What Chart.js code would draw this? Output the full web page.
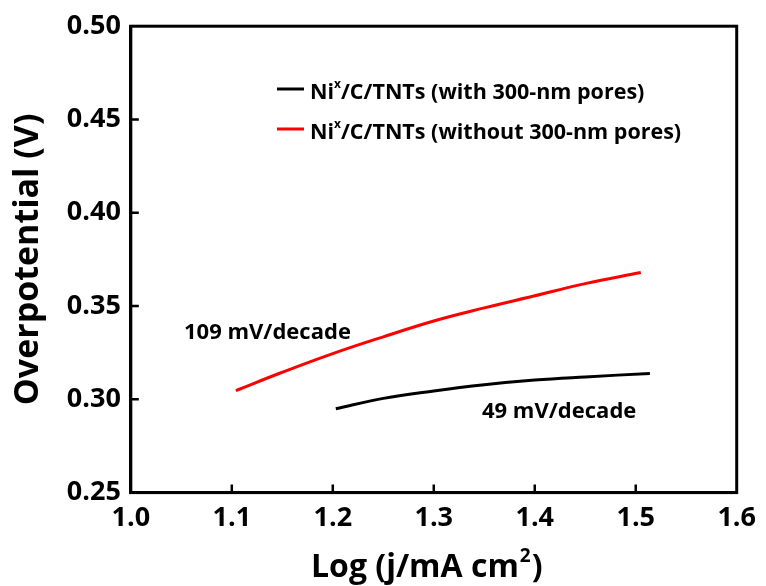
<!DOCTYPE html>
<html>
<head>
<meta charset="utf-8">
<script src="https://cdn.jsdelivr.net/npm/chart.js@4.4.1/dist/chart.umd.min.js"></script>
<style>
  html, body { margin: 0; padding: 0; background: #fff; }
  #wrap { width: 766px; height: 586px; }
</style>
</head>
<body>
<div id="wrap"><canvas id="chart" width="766" height="586"></canvas></div>
<script>
const withPores_x = [1.203, 1.25, 1.30, 1.35, 1.40, 1.45, 1.514];
const withPores_y = [0.2949, 0.3005, 0.3045, 0.3078, 0.3103, 0.3120, 0.3139];
const withoutPores_x = [1.104, 1.15, 1.20, 1.25, 1.30, 1.35, 1.40, 1.45, 1.505];
const withoutPores_y = [0.3047, 0.3145, 0.3245, 0.3335, 0.342, 0.349, 0.3555, 0.362, 0.368];

const legendLabels = ['/C/TNTs (with 300-nm pores)', '/C/TNTs (without 300-nm pores)'];
const slopeLabels = ['49 mV/decade', '109 mV/decade'];

const FONT = '"Open Sans", Lato, sans-serif';

function pts(xs, ys) {
    return xs.map((x, i) => ({ x: x, y: ys[i] }));
}

const decorations = {
    id: 'decorations',
    afterDraw(chart) {
        const ctx = chart.ctx;
        const a = chart.chartArea;
        const xs = chart.scales.x, ys = chart.scales.y;
        ctx.save();
        ctx.strokeStyle = '#000';
        ctx.lineWidth = 3;
        ctx.strokeRect(a.left, a.top, a.right - a.left, a.bottom - a.top);

        // inward ticks
        ctx.lineWidth = 2.5;
        ctx.beginPath();
        xs.ticks.forEach(t => {
            const px = xs.getPixelForValue(t.value);
            if (px <= a.left + 2 || px >= a.right - 2) return;
            ctx.moveTo(px, a.bottom);
            ctx.lineTo(px, a.bottom - 8);
        });
        ys.ticks.forEach(t => {
            const py = ys.getPixelForValue(t.value);
            if (py <= a.top + 2 || py >= a.bottom - 2) return;
            ctx.moveTo(a.left, py);
            ctx.lineTo(a.left + 8, py);
        });
        ctx.stroke();

        // legend
        const colors = ['#000', '#f00'];
        ctx.textBaseline = 'alphabetic';
        ctx.textAlign = 'left';
        legendLabels.forEach((lab, i) => {
            const base = 99 + i * 40;
            ctx.strokeStyle = colors[i];
            ctx.lineWidth = 3;
            ctx.beginPath();
            ctx.moveTo(277, base - 10);
            ctx.lineTo(304, base - 10);
            ctx.stroke();
            ctx.fillStyle = '#000';
            ctx.font = 'bold 21.5px ' + FONT;
            ctx.fillText('Ni', 310, base);
            const w = ctx.measureText('Ni').width;
            ctx.font = 'bold 12px ' + FONT;
            ctx.fillText('x', 310 + w, base - 11);
            const w2 = ctx.measureText('x').width;
            ctx.font = 'bold 21.5px ' + FONT;
            ctx.fillText(lab, 310 + w + w2, base);
        });

        // slope notes
        ctx.fillStyle = '#000';
        ctx.font = 'bold 22px ' + FONT;
        ctx.fillText(slopeLabels[0], 482, 418);
        ctx.fillText(slopeLabels[1], 184, 339);

        // x title with superscript
        const t1 = 'Log (j/mA cm', t2 = ')';
        ctx.font = 'bold 32px ' + FONT;
        const w1 = ctx.measureText(t1).width;
        ctx.font = 'bold 19px ' + FONT;
        const ws = ctx.measureText('2').width;
        const x0 = 311, ty = 577;
        ctx.font = 'bold 32px ' + FONT;
        ctx.fillText(t1, x0, ty);
        ctx.font = 'bold 19px ' + FONT;
        ctx.fillText('2', x0 + w1 + 1, ty - 15);
        ctx.font = 'bold 32px ' + FONT;
        ctx.fillText(t2, x0 + w1 + ws + 2, ty);
        ctx.restore();
    }
};

new Chart(document.getElementById('chart'), {
    type: 'line',
    data: {
        datasets: [{
            data: pts(withPores_x, withPores_y),
            borderColor: '#000',
            borderWidth: 3,
            pointRadius: 0,
            tension: 0.4,
            fill: false
        }, {
            data: pts(withoutPores_x, withoutPores_y),
            borderColor: '#f00',
            borderWidth: 3,
            pointRadius: 0,
            tension: 0.4,
            fill: false
        }]
    },
    options: {
        responsive: false,
        animation: false,
        layout: { padding: { top: 19, right: 24, bottom: 41, left: 8 } },
        plugins: {
            legend: { display: false },
            tooltip: { enabled: false }
        },
        scales: {
            x: {
                type: 'linear',
                min: 1.0,
                max: 1.6,
                grid: { display: false, drawTicks: false, tickLength: 0 },
                border: { display: true, color: '#000', width: 3 },
                ticks: {
                    stepSize: 0.1,
                    padding: 10,
                    color: '#000',
                    font: { family: FONT, size: 27, weight: 'bold' },
                    callback: v => v.toFixed(1)
                }
            },
            y: {
                min: 0.25,
                max: 0.50,
                grid: { display: false, drawTicks: false, tickLength: 0 },
                border: { display: true, color: '#000', width: 3 },
                ticks: {
                    stepSize: 0.05,
                    padding: 10,
                    color: '#000',
                    font: { family: FONT, size: 27, weight: 'bold' },
                    callback: v => v.toFixed(2)
                },
                title: {
                    display: true,
                    text: 'Overpotential (V)',
                    color: '#000',
                    padding: { top: 0, bottom: 8 },
                    font: { family: FONT, size: 34, weight: 'bold' }
                }
            }
        }
    },
    plugins: [decorations]
});
</script>
</body>
</html>
